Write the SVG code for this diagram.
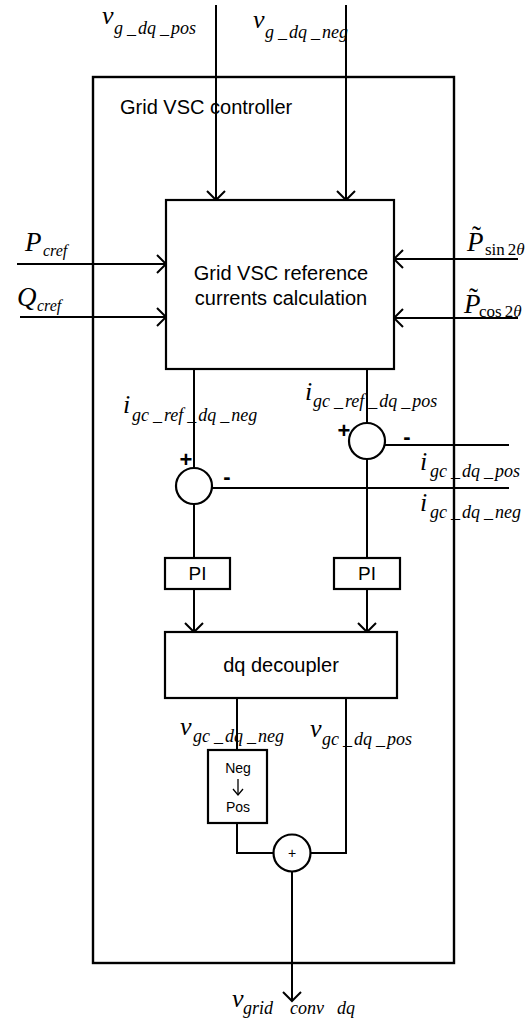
<svg xmlns="http://www.w3.org/2000/svg" width="532" height="1018" viewBox="0 0 532 1018">
<style>
.ln{fill:none;stroke:#000;stroke-width:2}
.bx{fill:#fff;stroke:#000;stroke-width:2.2}
.ob{fill:none;stroke:#000;stroke-width:2.4}
.t{font-family:"Liberation Sans",Arial,sans-serif;font-size:20px;fill:#000}
.tc{font-family:"Liberation Sans",Arial,sans-serif;font-size:20px;fill:#000;text-anchor:middle}
.sm{font-family:"Liberation Sans",Arial,sans-serif;font-size:14px;fill:#000;text-anchor:middle}
.mv{font-family:"Liberation Serif","Times New Roman",serif;font-style:italic;font-size:26px;fill:#000}
.ms{font-family:"Liberation Serif","Times New Roman",serif;font-style:italic;font-size:18px;fill:#000}
.mr{font-family:"Liberation Serif","Times New Roman",serif;font-size:17px;fill:#000}
.sg{font-family:"Liberation Sans",Arial,sans-serif;font-weight:bold;font-size:22px;fill:#000;text-anchor:middle}
</style>
<defs>
<marker id="arr" markerUnits="userSpaceOnUse" markerWidth="22" markerHeight="22" refX="11" refY="11" orient="auto" viewBox="0 0 22 22">
<path d="M2,2 L11,11 L2,20" fill="none" stroke="#000" stroke-width="2"/>
</marker>
</defs>

<g id="controller">
<rect class="ob" x="93" y="77" width="361" height="886"/>
<text class="t" x="120" y="114">Grid VSC controller</text>
</g>

<g id="connectors">
<line class="ln" x1="216" y1="5" x2="216" y2="200" marker-end="url(#arr)"/>
<line class="ln" x1="346" y1="5" x2="346" y2="200" marker-end="url(#arr)"/>
<line class="ln" x1="17" y1="264" x2="166" y2="264" marker-end="url(#arr)"/>
<line class="ln" x1="20" y1="317" x2="166" y2="317" marker-end="url(#arr)"/>
<line class="ln" x1="518" y1="259" x2="394" y2="259" marker-end="url(#arr)"/>
<line class="ln" x1="518" y1="318" x2="394" y2="318" marker-end="url(#arr)"/>
<line class="ln" x1="194" y1="369" x2="194" y2="468"/>
<line class="ln" x1="367" y1="369" x2="367" y2="423"/>
<line class="ln" x1="385" y1="445" x2="509" y2="445"/>
<line class="ln" x1="212" y1="488" x2="509" y2="488"/>
<line class="ln" x1="194" y1="504" x2="194" y2="558"/>
<line class="ln" x1="367" y1="459" x2="367" y2="558"/>
<line class="ln" x1="194" y1="589" x2="194" y2="632" marker-end="url(#arr)"/>
<line class="ln" x1="367" y1="589" x2="367" y2="632" marker-end="url(#arr)"/>
<line class="ln" x1="237" y1="698" x2="237" y2="750"/>
<polyline class="ln" points="346,698 346,853 310.5,853"/>
<polyline class="ln" points="237,823 237,853 273.5,853"/>
<line class="ln" x1="292" y1="871.5" x2="292" y2="1001" marker-end="url(#arr)"/>
</g>

<g id="ref_calc">
<rect class="bx" x="166" y="200" width="228" height="169"/>
<text class="tc" x="281" y="280">Grid VSC reference</text>
<text class="tc" x="281" y="305">currents calculation</text>
</g>

<g id="sum_neg">
<circle class="bx" cx="194" cy="486" r="18"/>
<text class="sg" x="186" y="467">+</text>
<text class="sg" x="227" y="484">-</text>
</g>

<g id="sum_pos">
<circle class="bx" cx="367" cy="441" r="18"/>
<text class="sg" x="344" y="438">+</text>
<text class="sg" x="407" y="444">-</text>
</g>

<g id="pi_neg">
<rect class="bx" x="165" y="558" width="65" height="31"/>
<text class="tc" x="197.5" y="580" style="font-size:19px">PI</text>
</g>

<g id="pi_pos">
<rect class="bx" x="334" y="558" width="66" height="31"/>
<text class="tc" x="367" y="580" style="font-size:19px">PI</text>
</g>

<g id="decoupler">
<rect class="bx" x="165" y="632" width="232" height="66"/>
<text class="tc" x="281" y="672">dq decoupler</text>
</g>

<g id="neg_to_pos">
<rect class="bx" x="208" y="750" width="59" height="73"/>
<text class="sm" x="238" y="773">Neg</text>
<line x1="238" y1="779" x2="238" y2="794" stroke="#000" stroke-width="1.3"/>
<polyline points="233,789 238,795 243,789" fill="none" stroke="#000" stroke-width="1.3"/>
<text class="sm" x="238" y="812">Pos</text>
</g>

<g id="sum_out">
<circle class="bx" cx="292" cy="853" r="18.5"/>
<text class="sm" x="292" y="858">+</text>
</g>

<g id="labels">
<text class="mv" x="102" y="24">v</text>
<text class="ms" x="114" y="34">g<tspan dx="4">_</tspan><tspan dx="2">dq</tspan><tspan dx="4">_</tspan><tspan dx="2">pos</tspan></text>
<text class="mv" x="253" y="28">v</text>
<text class="ms" x="265" y="38">g<tspan dx="4">_</tspan><tspan dx="2">dq</tspan><tspan dx="4">_</tspan><tspan dx="2">neg</tspan></text>

<text class="mv" x="25" y="251" style="font-size:27px">P</text>
<text class="ms" x="43" y="256" style="font-size:16px">cref</text>
<text class="mv" x="17" y="306" style="font-size:27px">Q</text>
<text class="ms" x="37" y="311" style="font-size:16px">cref</text>

<text class="mv" x="467" y="251" style="font-size:27px">P<tspan x="472" y="245" style="font-style:normal">˜</tspan></text>
<text class="mr" x="485" y="255">sin<tspan dx="3">2</tspan><tspan style="font-style:italic">θ</tspan></text>
<text class="mv" x="464" y="313" style="font-size:27px">P<tspan x="469" y="307" style="font-style:normal">˜</tspan></text>
<text class="mr" x="479" y="317">cos<tspan dx="3">2</tspan><tspan style="font-style:italic">θ</tspan></text>

<text class="mv" x="123" y="413">i</text>
<text class="ms" x="132" y="421">gc<tspan dx="4">_</tspan><tspan dx="2">ref</tspan><tspan dx="4">_</tspan><tspan dx="2">dq</tspan><tspan dx="4">_</tspan><tspan dx="2">neg</tspan></text>
<text class="mv" x="305" y="400">i</text>
<text class="ms" x="313" y="407">gc<tspan dx="4">_</tspan><tspan dx="2">ref</tspan><tspan dx="4">_</tspan><tspan dx="2">dq</tspan><tspan dx="4">_</tspan><tspan dx="2">pos</tspan></text>

<text class="mv" x="420" y="470">i</text>
<text class="ms" x="430" y="477">gc<tspan dx="4">_</tspan><tspan dx="2">dq</tspan><tspan dx="4">_</tspan><tspan dx="2">pos</tspan></text>
<text class="mv" x="420" y="511">i</text>
<text class="ms" x="430" y="518">gc<tspan dx="4">_</tspan><tspan dx="2">dq</tspan><tspan dx="4">_</tspan><tspan dx="2">neg</tspan></text>

<text class="mv" x="180" y="735">v</text>
<text class="ms" x="193" y="742">gc<tspan dx="4">_</tspan><tspan dx="2">dq</tspan><tspan dx="4">_</tspan><tspan dx="2">neg</tspan></text>
<text class="mv" x="310" y="737">v</text>
<text class="ms" x="322" y="745">gc<tspan dx="4">_</tspan><tspan dx="2">dq</tspan><tspan dx="4">_</tspan><tspan dx="2">pos</tspan></text>

<text class="mv" x="232" y="1007">v</text>
<text class="ms" x="243" y="1014">grid<tspan dx="4" dy="8">_</tspan><tspan dx="4" dy="-8">conv</tspan><tspan dx="2" dy="8">_</tspan><tspan dx="2" dy="-8">dq</tspan></text>
</g>
</svg>
